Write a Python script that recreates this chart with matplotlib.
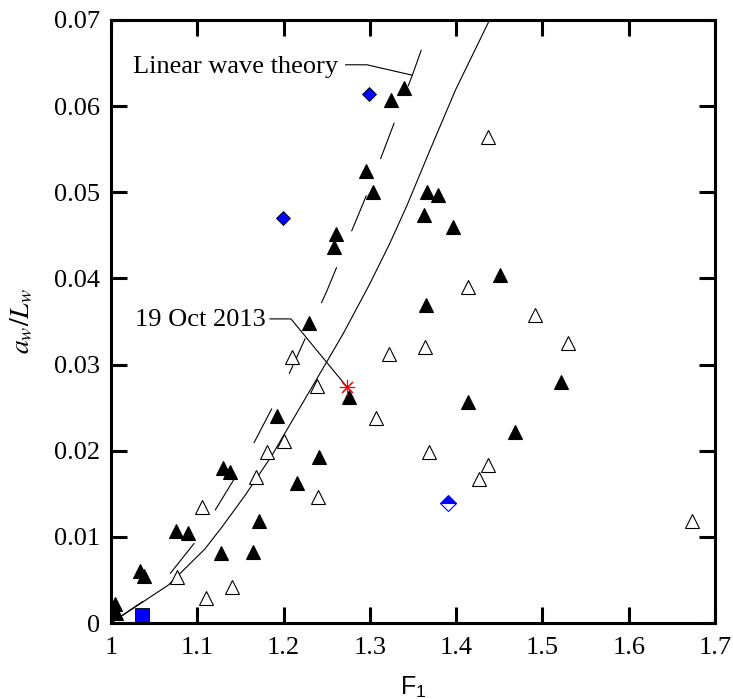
import matplotlib
matplotlib.use('Agg')
import matplotlib.pyplot as plt

plt.rcParams['font.family'] = ['Liberation Serif', 'DejaVu Serif']
plt.rcParams['mathtext.fontset'] = 'stix'
plt.rcParams['lines.scale_dashes'] = False

# breaking waves (filled) and non-breaking (open)
filled_f1 = [1.005, 1.006, 1.034, 1.038, 1.075, 1.089, 1.128, 1.130, 1.138,
             1.165, 1.172, 1.192, 1.216, 1.241, 1.230, 1.276, 1.258, 1.261,
             1.296, 1.304, 1.325, 1.340, 1.363, 1.366, 1.379, 1.396, 1.365,
             1.414, 1.451, 1.468, 1.522]
filled_aw = [0.0022, 0.0012, 0.0060, 0.0055, 0.0107, 0.0105, 0.0081, 0.0180, 0.0175,
             0.0083, 0.0118, 0.0240, 0.0163, 0.0193, 0.0348, 0.0262, 0.0437, 0.0452,
             0.0525, 0.0500, 0.0607, 0.0621, 0.0474, 0.0500, 0.0497, 0.0460, 0.0369,
             0.0257, 0.0404, 0.0222, 0.0280]

open_f1 = [1.077, 1.106, 1.110, 1.140, 1.168, 1.181, 1.201, 1.210, 1.239, 1.240,
           1.307, 1.322, 1.364, 1.368, 1.414, 1.427, 1.437, 1.437, 1.491, 1.530,
           1.673]
open_aw = [0.0053, 0.0135, 0.0029, 0.0042, 0.0170, 0.0199, 0.0211, 0.0309, 0.0275, 0.0146,
           0.0238, 0.0312, 0.0320, 0.0199, 0.0390, 0.0167, 0.0183, 0.0564, 0.0358, 0.0325,
           0.0118]

diamond_f1 = [1.199, 1.299]
diamond_aw = [0.0470, 0.0614]
half_f1 = [1.391]
half_aw = [0.0139]
square_f1 = [1.036]
square_aw = [0.0009]
event_f1 = [1.2735]
event_aw = [0.0274]

# curves
theory_f1 = [1.0, 1.05, 1.10, 1.15, 1.20, 1.25, 1.30, 1.35, 1.372]
theory_aw = [0.0, 0.0034, 0.0097, 0.0179, 0.0275, 0.0385, 0.0506, 0.0638, 0.0700]
fit_f1 = [1.0, 1.0664, 1.1089, 1.1283, 1.1553, 1.1862, 1.2084, 1.25, 1.2692,
          1.3001, 1.3233, 1.3436, 1.3697, 1.3994, 1.4373]
fit_aw = [0.0, 0.0044, 0.0086, 0.0111, 0.0148, 0.0194, 0.0232, 0.0303, 0.0336,
          0.0394, 0.0441, 0.0486, 0.0549, 0.0619, 0.0697]

fig = plt.figure(figsize=(7.33, 6.99), dpi=100)
ax = fig.add_axes([0.1514, 0.1087, 0.824, 0.8627])

ax.plot(theory_f1, theory_aw, color='black', lw=0.8, dashes=(28, 28))
ax.plot(fit_f1, fit_aw, color='black', lw=0.8)

ax.plot(filled_f1, filled_aw, '^', ms=10, mfc='black', mec='black', mew=0.8)
ax.plot(open_f1, open_aw, '^', ms=10, mfc='white', mec='black', mew=0.8)
ax.plot(diamond_f1, diamond_aw, 'D', ms=7.6, mfc='blue', mec='black', mew=0.6)
ax.plot(half_f1, half_aw, 'D', ms=7.8, color='blue', fillstyle='top',
        markerfacecoloralt='white', mec='blue', mew=0.8)
ax.plot(square_f1, square_aw, 's', ms=10, mfc='blue', mec='black', mew=0.6)
ax.plot(event_f1, event_aw, marker=(8, 2, 0), ms=11, color='red', mew=0.8,
        ls='none', zorder=5)

# annotations
ax.text(1.0255, 0.0645, 'Linear wave theory', fontsize=19, va='center')
ax.plot([1.272, 1.2967, 1.3488], [0.0648, 0.0648, 0.0636], color='black', lw=0.8)
ax.text(1.0278, 0.0352, '19 Oct 2013', fontsize=19, va='center')
ax.plot([1.1843, 1.2086, event_f1[0]], [0.0353, 0.0353, event_aw[0]],
        color='black', lw=0.8)

ax.set_xlim(1.0, 1.7)
ax.set_ylim(0.0, 0.07)
ax.set_xticks([1.0, 1.1, 1.2, 1.3, 1.4, 1.5, 1.6, 1.7])
ax.set_xticklabels(['1', '1.1', '1.2', '1.3', '1.4', '1.5', '1.6', '1.7'])
ax.set_yticks([0, 0.01, 0.02, 0.03, 0.04, 0.05, 0.06, 0.07])
ax.set_yticklabels(['0', '0.01', '0.02', '0.03', '0.04', '0.05', '0.06', '0.07'])

for s in ax.spines.values():
    s.set_linewidth(2.2)
ax.tick_params(direction='in', length=11.5, width=2.2, top=True, right=True,
               labelsize=19)
ax.tick_params(axis='x', pad=10)
ax.tick_params(axis='y', pad=8)

ax.set_xlabel(r'F$_\mathregular{1}$', fontsize=18, family='Liberation Sans')
ax.xaxis.set_label_coords(0.5, -0.085)
ax.set_ylabel(r'$a_w/L_w$', fontsize=20)
ax.yaxis.set_label_coords(-0.125, 0.5)

fig.savefig('out.png', dpi=100)
